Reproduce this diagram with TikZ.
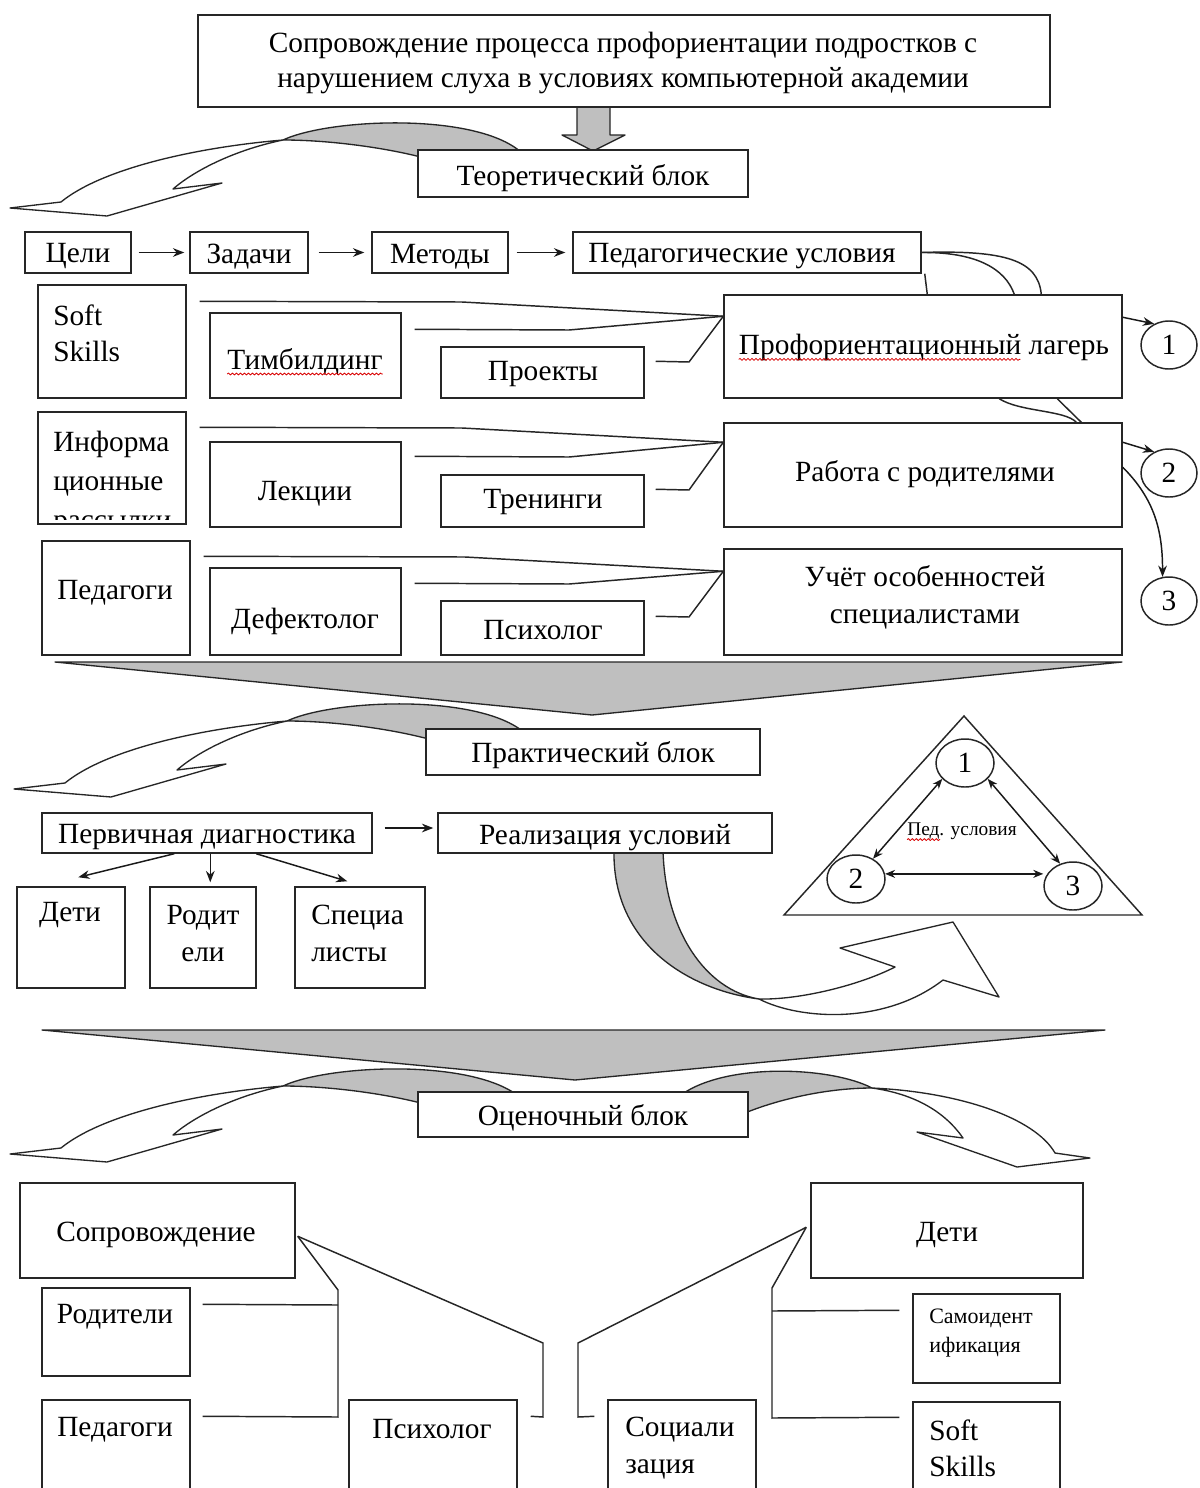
\documentclass[tikz,border=0pt]{standalone}
\usepackage{fontspec}
\setmainfont{Liberation Serif}
\usetikzlibrary{arrows.meta,calc,shapes.geometric,decorations.pathmorphing}
\newcommand\fs{\fontsize{22}{27.5}\selectfont}
\newcommand\fss{\fontsize{16.5}{22}\selectfont}
\newcommand\fst{\fontsize{14.5}{16}\selectfont}
\newcommand\bx[6][]{\node[box,minimum width={(#5-#3)*0.75pt},minimum height={(#6-#4)*0.75pt},#1] (#2) at ({(#3+#5)/2},{(#4+#6)/2}) {};}
\newcommand\myLarrow[2]{\begin{scope}[shift={(#1,#2)}]
\filldraw[lens] (283,140) .. controls (330,118) and (480,112) .. (523,154) -- (432,154) -- (432,160) .. controls (390,148) and (330,140) .. cycle;
\filldraw[band] (283,140) .. controls (190,148) and (100,170) .. (61,202) -- (10,208) -- (107,216) -- (222,183) -- (173,189) .. controls (195,170) and (235,150) .. cycle;
\end{scope}}
\tikzset{
 box/.style={rectangle,draw=black!85,line width=1.1pt,fill=white,inner sep=0pt},
 txt/.style={inner sep=0pt,align=center,text=black,yshift=-2.5pt},
 ln/.style={draw=black!85,line width=1.1pt},
 arr/.style={draw=black!90,line width=1.1pt,-{Stealth[length=8.5pt,width=6.5pt]}},
 darr/.style={draw=black!90,line width=1.1pt,{Stealth[length=7.5pt,width=6pt]}-{Stealth[length=7.5pt,width=6pt]}},
 lens/.style={fill=gray!50,draw=black!85,line width=1pt,line join=round},
 band/.style={fill=white,draw=black!85,line width=1pt,line join=round},
 circ/.style={ellipse,draw=black!85,line width=1.1pt,fill=white,inner sep=0pt,minimum width=42pt,minimum height=36pt},
 squig/.style={draw=red!85!black,line width=0.6pt,decorate,decoration={snake,amplitude=0.7pt,segment length=3pt}}
}
\begin{document}
\begin{tikzpicture}[x=0.75pt,y=-0.75pt,every node/.style={font=\fs}]
\useasboundingbox (0,0) rectangle (1199,1488);
\fill[white] (0,0) rectangle (1199,1488);

% ---- decorative arrows (under boxes)
\myLarrow{0}{0}
\myLarrow{4}{581}
\myLarrow{0}{946}
\filldraw[lens] (872,1088) .. controls (830,1066) and (720,1062) .. (677,1098) -- (740,1098) -- (740,1115) .. controls (780,1098) and (830,1088) .. cycle;
\filldraw[band] (872,1088) .. controls (960,1092) and (1035,1118) .. (1055,1153) -- (1090,1158) -- (1017,1167) -- (917,1132) -- (963,1138) .. controls (945,1112) and (915,1094) .. cycle;

\filldraw[lens] (577,104) -- (577,135) -- (562,135) -- (593,151) -- (625,135) -- (610,135) -- (610,104) -- cycle;
\filldraw[lens] (55,662) -- (1122,662) -- (592,715) -- cycle;
\filldraw[lens] (42,1030) -- (1105,1030) -- (575,1080) -- cycle;

% big curved arrow from "Реализация условий"
\filldraw[lens] (614,850) .. controls (612,945) and (690,990) .. (759,999) .. controls (705,990) and (665,930) .. (663,850) -- cycle;
\filldraw[band] (759,999) .. controls (800,1020) and (885,1025) .. (943,980) -- (999,997) -- (953,922) -- (840,948) -- (895,967) .. controls (860,985) and (800,1000) .. (759,999) -- cycle;

% triangle
\draw[ln,line join=miter] (964,716) -- (784,915) -- (1142,915) -- cycle;

% ---- boxes
\bx{top}{198}{15}{1050}{107}
\bx{teor}{418}{150}{748}{197}
\bx{celi}{25}{232}{131}{273}
\bx{zad}{190}{232}{308}{273}
\bx{met}{372}{232}{508}{273}
\bx{pu}{573}{232}{921}{273}
\bx{soft}{38}{285}{186}{398}
\bx{timb}{210}{313}{401}{398}
\bx{proj}{441}{347}{644}{398}
\bx{prof}{724}{295}{1122}{398}
\bx{info}{38}{412}{186}{524}
\bx{lek}{210}{442}{401}{527}
\bx{tren}{441}{475}{644}{527}
\bx{rab}{724}{423}{1122}{527}
\bx{ped}{42}{541}{190}{655}
\bx{def}{210}{568}{401}{655}
\bx{psy}{441}{601}{644}{655}
\bx{uch}{724}{549}{1122}{655}
\bx{prak}{426}{729}{760}{775}
\bx{perv}{42}{813}{372}{853}
\bx{real}{438}{813}{772}{853}
\bx{deti}{17}{887}{125}{988}
\bx{rodit}{150}{887}{256}{988}
\bx{spec}{295}{887}{425}{988}
\bx{ocen}{418}{1092}{748}{1137}
\bx{sopr}{20}{1183}{295}{1278}
\bx{rodb}{42}{1288}{190}{1376}
\bx{pedb}{42}{1400}{190}{1494}
\bx{psyb}{349}{1400}{517}{1494}
\bx{soc}{608}{1400}{756}{1494}
\bx{detb}{811}{1183}{1083}{1278}
\bx{samo}{913}{1294}{1060}{1383}
\bx{softb}{913}{1402}{1060}{1494}

% ---- texts
\node[txt,font=\fontsize{22}{26.3}\selectfont] (t-top) at (623,60) {Сопровождение процесса профориентации подростков с\\нарушением слуха в условиях компьютерной академии};
\node[txt] (t-teor) at (583,175) {Теоретический блок};
\node[txt] (t-celi) at (78,253) {Цели};
\node[txt] (t-zad) at (249,253) {Задачи};
\node[txt] (t-met) at (440,253) {Методы};
\node[txt] (t-pu) at (742,253) {Педагогические условия};
\node[txt,align=left,anchor=west] (t-soft) at (53,330) {Soft\\Skills};
\node[txt] (t-timb) at (305,358) {Тимбилдинг};
\node[txt] (t-proj) at (543,371) {Проекты};
\node[txt] (t-prof) at (924,344) {Профориентационный лагерь};
\begin{scope}
\clip ($(info.north west)+(1,1)$) rectangle ($(info.south east)+(-1,-5)$);
\node[txt,align=left,anchor=west,font=\fontsize{22}{29}\selectfont] (t-info) at (53,480) {Информа\\ционные\\рассылки};
\end{scope}
\node[txt] (t-lek) at (305,490) {Лекции};
\node[txt] (t-tren) at (543,499) {Тренинги};
\node[txt] (t-rab) at (925,471) {Работа с родителями};
\node[txt] (t-ped) at (115,589) {Педагоги};
\node[txt] (t-def) at (305,618) {Дефектолог};
\node[txt] (t-psy) at (543,627) {Психолог};
\node[txt] (t-uch) at (925,594) {Учёт особенностей\\специалистами};
\node[txt] (t-prak) at (593,752) {Практический блок};
\node[txt] (t-perv) at (207,834) {Первичная диагностика};
\node[txt] (t-real) at (605,834) {Реализация условий};
\node[txt] (t-deti) at (70,912) {Дети};
\node[txt] (t-rodit) at (203,930) {Родит\\ели};
\node[txt,align=left,anchor=west] (t-spec) at (311,930) {Специа\\листы};
\node[txt,font=\fst] (t-pedu) at (962,828) {Пед. условия};
\node[txt] (t-ocen) at (583,1114) {Оценочный блок};
\node[txt] (t-sopr) at (156,1232) {Сопровождение};
\node[txt] (t-rodb) at (115,1313) {Родители};
\node[txt] (t-pedb) at (115,1426) {Педагоги};
\node[txt] (t-psyb) at (432,1426) {Психолог};
\node[txt,align=left,anchor=west] (t-soc) at (625,1445) {Социали\\зация};
\node[txt] (t-detb) at (947,1232) {Дети};
\node[txt,align=left,anchor=west,font=\fss] (t-samo) at (929,1330) {Самоидент\\ификация};
\node[txt,align=left,anchor=west] (t-softb) at (929,1445) {Soft\\Skills};

% spell-check squiggles
\coordinate (u1) at ($(t-timb.base west)+(0,5)$);
\coordinate (u2) at ($(t-timb.base east)+(0,5)$);
\draw[squig] (u1) -- (u2);
\coordinate (u3) at ($(t-prof.base west)+(0,5)$);
\coordinate (u4) at ($(t-prof.base east)+(0,5)$);
\draw[squig] (u3) -- ($(u3)!0.76!(u4)$);
\coordinate (u5) at ($(t-pedu.base west)+(0,4)$);
\coordinate (u6) at ($(t-pedu.base east)+(0,4)$);
\draw[squig] (u5) -- ($(u5)!0.3!(u6)$);

% ---- connectors: first row
\draw[arr] ($(celi.east)+(7,0)$) -- ($(zad.west)+(-5,0)$);
\draw[arr] ($(zad.east)+(10,0)$) -- ($(met.west)+(-7,0)$);
\draw[arr] ($(met.east)+(8,0)$) -- ($(pu.west)+(-7,0)$);

% feeds into the three condition boxes
\coordinate (j1) at ($(prof.north west)+(0,22)$);
\draw[ln] ($(soft.north east)+(13,17)$) -- (462,302) -- (j1);
\draw[ln] ($(timb.north east)+(13,17)$) -- (569,330) -- (j1);
\draw[ln] ($(proj.north east)+(11,15)$) -- (689,362) -- (j1);
\coordinate (j2) at ($(rab.north west)+(0,20)$);
\draw[ln] ($(info.north east)+(13,16)$) -- (462,428) -- (j2);
\draw[ln] ($(lek.north east)+(13,15)$) -- (569,457) -- (j2);
\draw[ln] ($(tren.north east)+(11,15)$) -- (689,490) -- (j2);
\coordinate (j3) at ($(uch.north west)+(0,23)$);
\draw[ln] ($(ped.north east)+(13,16)$) -- (465,557) -- (j3);
\draw[ln] ($(def.north east)+(13,16)$) -- (569,584) -- (j3);
\draw[ln] ($(psy.north east)+(11,16)$) -- (689,617) -- (j3);

% from "Педагогические условия"
\draw[ln] (pu.east) .. controls (975,252) and (1005,268) .. ($(prof.north west)+(291,0)$);
\draw[ln] (pu.east) .. controls (1005,250) and (1038,260) .. ($(prof.north west)+(318,0)$);
\draw[ln] ($(pu.south east)+(3,0)$) -- ($(prof.north west)+(204,0)$);
\draw[ln] ($(prof.south west)+(276,0)$) .. controls (1020,412) and (1065,410) .. ($(rab.north west)+(353,0)$);
\draw[ln] ($(prof.south west)+(334,0)$) -- ($(rab.north west)+(358,0)$);

% numbered circles
\node[circ] (c1) at (1169,345) {1};
\node[circ] (c2) at (1169,473) {2};
\node[circ] (c3) at (1169,601) {3};
\draw[arr] ($(prof.north east)+(0,23)$) -- (c1.125);
\draw[arr] ($(rab.north east)+(0,20)$) -- (c2.125);
\draw[arr] ($(rab.north east)+(0,45)$) to[out=-45,in=90] (c3.105);

% practical block
\draw[arr] ($(perv.east)+(12,-5)$) -- ($(real.west)+(-4,-5)$);
\draw[arr] ($(perv.south west)+(133,0)$) -- ($(deti.north west)+(62,-9)$);
\draw[arr] ($(perv.south west)+(169,0)$) -- ($(rodit.north west)+(61,-4)$);
\draw[arr] ($(perv.south west)+(215,0)$) -- ($(spec.north west)+(53,-5)$);

\node[circ,minimum width=43.5pt] (t1) at (965,763) {1};
\node[circ,minimum width=43.5pt] (t2) at (856,879) {2};
\node[circ,minimum width=43.5pt] (t3) at (1073,886) {3};
\draw[darr] (t1.215) -- (t2.50);
\draw[darr] (t1.-35) -- (t3.120);
\draw[darr] (t2.10) -- (t2.10 -| t3.west);

% evaluation block
\coordinate (s) at ($(sopr.north east)+(2,54)$);
\draw[ln] (s) -- (338,1290) -- (338,1417) -- ($(pedb.north east)+(12,17)$);
\draw[ln] ($(rodb.north east)+(12,17)$) -- (338,1305);
\draw[ln] (s) -- (543,1343) -- (543,1417) -- ($(psyb.north east)+(13,17)$);
\coordinate (d) at ($(detb.north west)+(-4,45)$);
\draw[ln] (d) -- (578,1343) -- (578,1417) -- ($(soc.north west)+(-13,17)$);
\draw[ln] (d) -- (772,1288) -- (772,1418) -- ($(softb.north west)+(-13,16)$);
\draw[ln] (772,1311) -- ($(samo.north west)+(-13,17)$);
\end{tikzpicture}
\end{document}
